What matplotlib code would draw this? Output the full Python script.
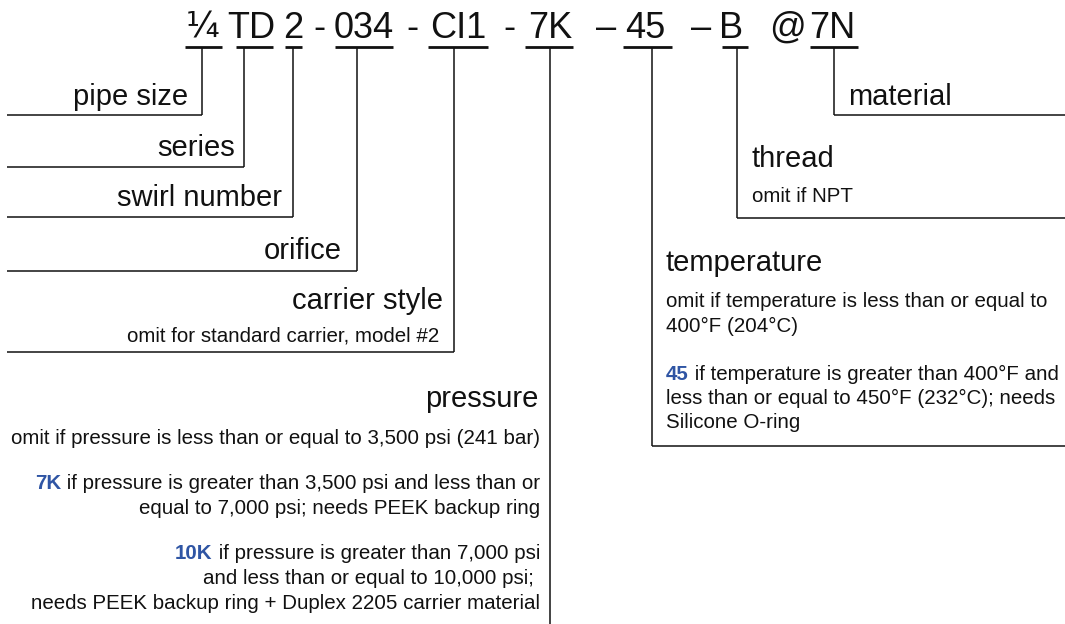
import matplotlib.pyplot as plt

plt.rcParams['font.family'] = ['Liberation Sans', 'DejaVu Sans']

INK = '#111111'
BLUE = '#2f55a4'

# code segments of the part number
codes = ["¼", "TD", "2", "034", "CI1", "7K", "45", "B", "7N"]
seps = ["-", "-", "-", "–", "–", "@"]

# labels hanging off each segment
left_labels = ["pipe size", "series", "swirl number", "orifice", "carrier style"]
carrier_note = "omit for standard carrier, model #2"
pressure_title = "pressure"
pressure_notes = [
    ("", "omit if pressure is less than or equal to 3,500 psi (241 bar)"),
    ("7K", " if pressure is greater than 3,500 psi and less than or"),
    ("", "equal to 7,000 psi; needs PEEK backup ring"),
    ("10K", " if pressure is greater than 7,000 psi"),
    ("", "and less than or equal to 10,000 psi; "),
    ("", "needs PEEK backup ring + Duplex 2205 carrier material"),
]
temp_title = "temperature"
temp_notes = [
    ("", "omit if temperature is less than or equal to"),
    ("", "400°F (204°C)"),
    ("45", " if temperature is greater than 400°F and"),
    ("", "less than or equal to 450°F (232°C); needs"),
    ("", "Silicone O-ring"),
]
thread_title = "thread"
thread_note = "omit if NPT"
material_title = "material"

# layout (pixel coords, y down)
code_x = [203, 251, 293, 364, 458, 550, 645, 731, 832]
sep_x = [319, 412, 509, 606, 701, 788]
ul_span = [(185, 222), (236, 273), (285, 302), (335, 393), (428, 488),
           (525, 573), (623, 672), (722, 748), (810, 858)]
drop_x = [202, 244, 293, 357, 454, 550, 652, 737, 834]
left_y = [115, 167, 217, 271, 352]
left_text_x = [188, 235, 282, 342, 443]
left_text_y = [105, 156, 206, 259, 309]

fig = plt.figure(figsize=(10.65, 6.24), dpi=100)
ax = fig.add_axes([0, 0, 1, 1])
ax.set_xlim(0, 1065)
ax.set_ylim(624, 0)
ax.axis('off')

big = 21
small = 14.8
line_kw = dict(color=INK, lw=1.1, solid_capstyle='butt')

# header
for c, x in zip(codes, code_x):
    if c == "¼":
        # DejaVu's fraction glyph is closer to the original's
        ax.text(x, 38, c, fontsize=25, family='DejaVu Sans',
                ha='center', va='baseline', color=INK)
    else:
        ax.text(x, 38, c, fontsize=26, ha='center', va='baseline', color=INK)
for s, x in zip(seps, sep_x):
    ax.text(x, 38, s, fontsize=26, ha='center', va='baseline', color=INK)
for x0, x1 in ul_span:
    ax.plot([x0, x1], [47, 47], color=INK, lw=2.0, solid_capstyle='butt')

# left side brackets
for i, lab in enumerate(left_labels):
    x = drop_x[i]
    y = left_y[i]
    ax.plot([x, x], [47, y], **line_kw)
    ax.plot([7, x], [y, y], **line_kw)
    ax.text(left_text_x[i], left_text_y[i], lab, fontsize=big,
            ha='right', va='baseline', color=INK)
ax.text(439, 341, carrier_note, fontsize=small, ha='right', va='baseline', color=INK)

# pressure
px = drop_x[5]
ax.plot([px, px], [47, 624], **line_kw)
ax.text(538, 407, pressure_title, fontsize=big, ha='right', va='baseline', color=INK)
p_base = [444, 489, 514, 559, 584, 609]
for (hl, rest), yb in zip(pressure_notes, p_base):
    t = ax.text(540, yb, rest, fontsize=small, ha='right', va='baseline', color=INK)
    if hl:
        ax.annotate(hl, xycoords=t, xy=(0, 0), ha='right', va='bottom',
                    fontsize=small, fontweight='bold', color=BLUE)

# temperature
tx = drop_x[6]
ax.plot([tx, tx], [47, 446], **line_kw)
ax.plot([tx, 1065], [446, 446], **line_kw)
ax.text(666, 271, temp_title, fontsize=big, ha='left', va='baseline', color=INK)
t_base = [307, 332, 380, 404, 428]
for (hl, rest), yb in zip(temp_notes, t_base):
    if hl:
        h = ax.text(666, yb, hl, fontsize=small, fontweight='bold',
                    ha='left', va='baseline', color=BLUE)
        ax.annotate(rest, xycoords=h, xy=(1, 0), ha='left', va='bottom',
                    fontsize=small, color=INK)
    else:
        ax.text(666, yb, rest, fontsize=small, ha='left', va='baseline', color=INK)

# thread
hx = drop_x[7]
ax.plot([hx, hx], [47, 218], **line_kw)
ax.plot([hx, 1065], [218, 218], **line_kw)
ax.text(752, 167, thread_title, fontsize=big, ha='left', va='baseline', color=INK)
ax.text(752, 202, thread_note, fontsize=small, ha='left', va='baseline', color=INK)

# material
mx = drop_x[8]
ax.plot([mx, mx], [47, 115], **line_kw)
ax.plot([mx, 1065], [115, 115], **line_kw)
ax.text(848, 105, material_title, fontsize=big, ha='left', va='baseline', color=INK)

fig.savefig('out.png', dpi=100)
